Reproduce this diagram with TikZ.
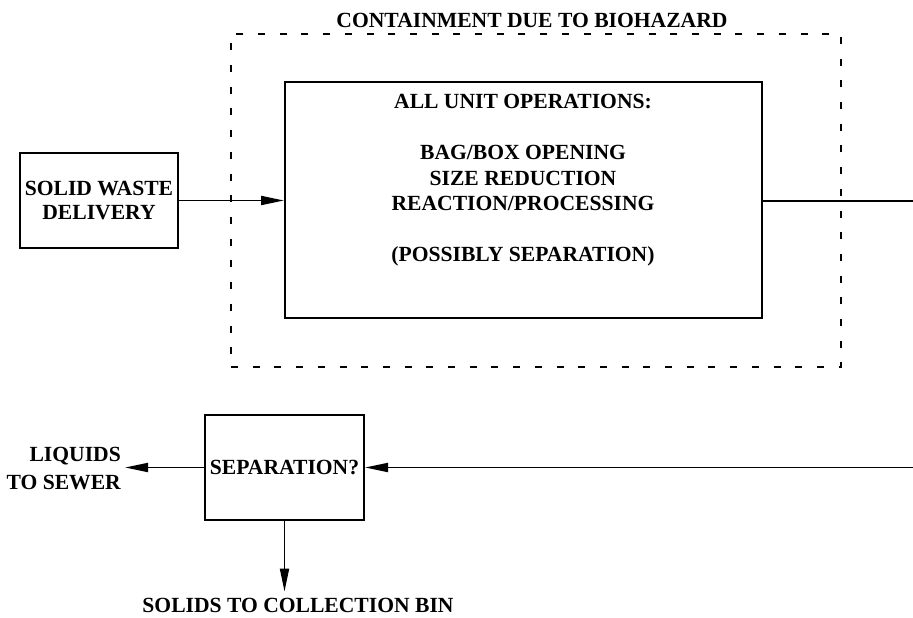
\documentclass[tikz,border=0pt]{standalone}
\usepackage{fontspec}
\setmainfont{Liberation Serif}
\usetikzlibrary{arrows.meta}
\begin{document}
\begin{tikzpicture}[x=1pt,y=-1pt,
  every node/.style={font=\bfseries\fontsize{21.6}{24}\selectfont},
  box/.style={draw,line width=2pt,inner sep=0pt},
  flow/.style={line width=1.9pt,-{Triangle[length=23pt,width=9pt]}},
  plain/.style={line width=2pt},
  contain/.style={draw,line width=2.2pt,dash pattern=on 7pt off 14.7pt,inner sep=0pt}]
\useasboundingbox (0,0) rectangle (913,618);
% containment
\node[contain,minimum width=610pt,minimum height=333pt] (cont) at (536,200.5) {};
\node (title) at (532,20) {CONTAINMENT DUE TO BIOHAZARD};
% boxes
\node[box,minimum width=158pt,minimum height=95pt,align=center] (sw) at (99,200.5) {SOLID WASTE\\DELIVERY};
\node[box,minimum width=477pt,minimum height=236pt] (main) at (523.5,200) {};
\node[align=center,font=\bfseries\fontsize{21.6}{25.5}\selectfont] (maintext) at (523,180.5)
  {ALL UNIT OPERATIONS:\\[25.5pt]BAG/BOX OPENING\\SIZE REDUCTION\\REACTION/PROCESSING\\[25.5pt](POSSIBLY SEPARATION)};
\node[box,minimum width=159pt,minimum height=105pt] (sep) at (284.5,467.5) {SEPARATION?};
\node[align=right,anchor=east,inner sep=0pt,font=\bfseries\fontsize{21.6}{28}\selectfont] (liq) at (121,469) {LIQUIDS\\TO SEWER};
\node[inner sep=0pt] (sol) at (298,605) {SOLIDS TO COLLECTION BIN};
% free ends
\coordinate (outR) at (913,201);
\coordinate (inR) at (913,467.5);
% connectors
\draw[flow] (sw.east) -- (sw.east -| main.west);
\draw[plain] (main.east |- outR) -- (outR);
\draw[flow] (inR) -- (sep.east |- inR);
\draw[flow] (sep.west) -- ([xshift=4pt]sep.west -| liq.east);
\draw[flow] (sep.south) -- ([yshift=6pt]sep.south |- sol.north);
\end{tikzpicture}
\end{document}
